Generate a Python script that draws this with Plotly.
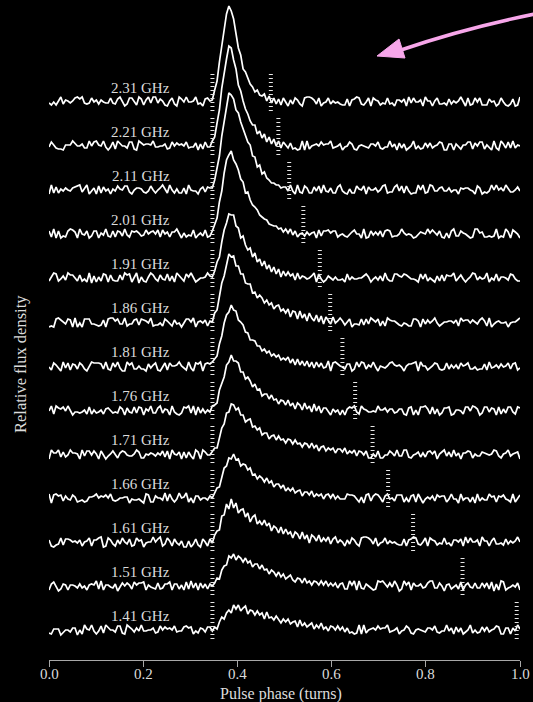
import numpy as np
import plotly.graph_objects as go

# ---------------- data ----------------
frequencies = ["2.31 GHz", "2.21 GHz", "2.11 GHz", "2.01 GHz", "1.91 GHz", "1.86 GHz",
               "1.81 GHz", "1.76 GHz", "1.71 GHz", "1.66 GHz", "1.61 GHz", "1.51 GHz", "1.41 GHz"]

# marker phases (turns)
left_marker = [0.347] * 13
right_marker = [0.471, 0.487, 0.510, 0.540, 0.575, 0.597, 0.623, 0.650, 0.687, 0.720, 0.773, 0.878, 0.993]

# pulse profiles, 200 phase bins over one turn (relative flux, arbitrary units)
p231 = [-1, -3, 0, -3, 1, 5, -2, 2, 1, -1, 1, 4, 5, 3, 5, -1, -2, -1, 4, 0,
        2, -2, 2, 0, -1, -1, 4, -1, -2, 3, 5, 1, -4, -2, 4, 4, 0, -3, 5, 3,
        -3, 2, 5, -1, 5, 5, -1, 3, 1, -3, -4, 1, 4, -2, -4, 5, 3, 0, 5, 0,
        0, 1, 5, -2, -1, -4, 3, 4, 1, 2, 12, 21, 40, 56, 70, 88, 96, 91, 83, 70,
        54, 47, 33, 30, 24, 18, 15, 10, 12, 7, 6, 8, 1, 6, -1, 4, -2, 3, -3, 4,
        0, -4, 2, -2, 4, 2, -2, -4, 4, 5, 5, 4, 2, -2, 4, -4, -1, 0, 4, -2,
        1, -1, 0, -2, -3, -3, 3, -4, 2, 3, 5, 4, -2, -3, 0, 4, -4, 4, 2, 1,
        -3, -1, -2, 4, -2, -1, -4, 2, 2, 0, 3, -4, 5, -1, 4, 0, 0, 2, -4, 5,
        1, 1, -4, 1, 4, -2, -2, -1, -3, 3, -2, 1, -1, 1, 5, 0, -4, 4, -3, -2,
        4, 0, 4, -3, -3, -3, 3, 0, 1, -4, -2, 4, 0, -3, -4, -2, 3, -4, -3, 5]
p221 = [-1, 4, 1, -2, -3, -3, -4, 1, 1, 1, 5, 2, 0, 0, 2, -2, -2, 5, 0, 4,
        5, 1, 0, 5, -1, -4, -1, 4, -3, 5, 2, 0, 0, -2, 4, 4, -3, -4, 5, 3,
        1, 2, 2, 1, 5, -1, -1, 0, 0, 2, -3, -2, 4, 0, 3, 1, 2, 0, 4, -2,
        -1, -1, 3, -4, 2, -3, 4, -1, -1, 5, 9, 23, 36, 58, 75, 87, 100, 98, 86, 77,
        61, 55, 45, 37, 32, 25, 21, 21, 12, 15, 8, 12, 4, 9, 2, 7, 0, 5, -2, 4,
        1, -2, 3, -3, -2, -4, -3, 5, -4, 5, -3, 0, 1, 2, 0, 4, 1, 2, 2, 5,
        -2, -1, 0, 2, -4, -1, 0, 4, 2, -3, -4, 0, 1, 0, -1, -2, 2, 2, 0, 4,
        -2, -3, -1, -1, 5, -1, 2, -4, 3, -2, 2, -4, -2, 0, 5, -3, 0, -3, -2, 3,
        -1, 3, -2, 0, 1, 4, 3, -4, -4, 2, 2, -4, 2, -1, -3, 1, 1, 4, 4, -3,
        3, 0, 4, 4, -3, 1, -2, -4, 5, -2, -4, 5, 2, -2, 4, -2, 5, -2, 1, 0]
p211 = [-4, 5, -3, 3, -3, 1, -1, 2, 0, -1, 2, 3, 4, 5, -2, 1, 5, -4, -1, 2,
        -4, 4, -3, 3, -1, 1, -4, 1, -1, 4, 1, 0, 4, 4, -2, -4, 0, 2, 2, 1,
        -2, -3, -1, 4, 0, -3, 0, 2, 5, 1, -3, 5, 0, -3, 1, -3, -3, 2, -4, 5,
        0, -1, -1, -4, 1, 3, -2, 3, 2, 2, 10, 22, 34, 54, 68, 86, 97, 95, 91, 80,
        77, 68, 62, 55, 48, 45, 34, 33, 23, 25, 16, 18, 12, 10, 7, 7, 5, 5, 2, 3,
        3, -1, 5, -1, -4, 5, -2, -3, 4, 2, -3, -3, 3, -1, 4, -3, 5, -1, -2, 2,
        -3, -3, 3, 5, -1, -3, -4, 1, -3, -3, 4, 1, 0, 4, -4, 3, 0, 0, 2, -2,
        0, 4, 5, -3, -2, -2, 3, 5, -1, 4, -3, 4, -1, -4, -3, -3, 5, 0, 5, -3,
        -2, 5, 4, -1, -1, 2, 3, -1, -1, 2, -2, 0, 0, -4, 2, 1, 2, 2, 0, -1,
        -4, 4, 2, -4, -2, -3, -1, 5, 0, 5, 0, 2, -1, 5, 1, -2, -2, 0, 3, -1]
p201 = [3, -3, 5, -4, 3, -4, -2, -3, 3, 5, 4, 2, -4, 5, 0, -1, 3, -4, -2, 3,
        3, -4, 1, -1, 5, -2, -3, 3, -3, 3, 2, -2, 5, -1, -3, 3, 2, 3, 1, -2,
        -1, 4, 0, 2, 3, 0, 4, -3, 4, 0, 2, -3, 2, 2, 5, 0, -4, 1, -3, -1,
        -2, 4, -4, -1, 1, -2, 4, -3, -2, 3, 9, 16, 32, 43, 61, 74, 79, 83, 74, 70,
        64, 55, 52, 41, 42, 34, 29, 27, 24, 19, 17, 15, 14, 10, 9, 8, 8, 5, 6, 2,
        5, 1, 5, -1, 3, -3, 0, 1, -2, 2, -1, 1, 2, -4, 4, -2, 3, 3, 4, 1,
        3, 3, -3, -1, 0, -2, -3, 0, 2, 4, 0, 0, -4, 5, -4, -3, 3, -1, 2, -1,
        3, -3, 3, 4, 3, -3, -2, -2, 0, 5, 1, -1, 0, -1, -4, -3, 0, 2, 1, 0,
        5, 1, 4, 1, -1, 3, -3, -4, 1, -4, 3, 5, -2, -2, 3, 1, 0, -2, -4, -3,
        5, 5, 1, 2, -3, -3, -2, -3, -2, 5, -4, -2, -3, 5, 2, -4, 4, 2, 0, -4]
p191 = [-3, 1, 5, 4, -3, -1, 2, -2, 5, 3, 3, 0, -3, 3, -3, -1, -4, 5, -5, 2,
        -4, 1, -3, 4, 3, -4, 3, -2, -3, -3, 3, -2, 5, 3, 4, -4, 0, 5, -5, 1,
        -3, -4, 1, 5, 3, -1, -3, 3, -1, -2, 4, -3, 2, -4, 5, 2, -1, -3, 4, 1,
        5, 1, -4, -2, 0, 0, 1, 5, 2, 1, 7, 16, 21, 36, 48, 55, 64, 63, 63, 52,
        50, 40, 42, 33, 28, 30, 21, 25, 16, 19, 12, 17, 9, 13, 6, 11, 4, 9, 1, 7,
        2, 6, 2, 4, -2, 5, -1, 2, 1, -1, 0, 2, 5, -4, 4, -1, -4, -2, 2, 0,
        -2, 1, -2, -2, -1, -4, 4, -2, 1, -1, -1, 0, 0, 2, 4, 1, -4, -1, 1, -2,
        2, -3, 5, -1, -3, -3, 4, 4, 2, 1, 4, 3, 1, -1, -1, -2, -4, 4, -1, 4,
        -3, 0, -2, -4, 2, -3, 3, -3, 3, 2, 2, 5, -3, 0, 3, -1, -4, -1, 1, 5,
        4, -2, 1, -1, 0, 5, -4, 0, -2, 4, -3, 1, 1, 0, -2, 4, 3, -1, -3, -3]
p186 = [-5, -4, -5, 3, 4, 2, 0, -2, 3, 2, -5, 4, -5, -1, -5, 3, 3, 3, -2, -2,
        -3, -4, -3, 2, -5, 3, 4, 4, 1, 3, -2, -2, 4, -4, -2, -2, 2, 3, -3, 3,
        2, 1, -1, 4, -4, -3, -3, -1, -4, 3, 1, -2, -4, 2, -2, -1, -5, -1, 3, 3,
        0, 4, -5, 0, 1, -1, 2, -4, 1, 0, 9, 12, 26, 39, 46, 59, 68, 65, 66, 56,
        56, 48, 48, 39, 38, 38, 29, 30, 24, 27, 24, 19, 22, 17, 19, 13, 16, 17, 11, 13,
        9, 13, 5, 11, 10, 3, 11, 4, 8, 1, 9, 4, 1, 7, 0, 6, -2, 5, 2, -2,
        5, -1, 1, 4, 1, -3, 0, 3, -5, -2, -2, -3, 3, -3, 3, -2, 4, 2, 0, 3,
        -4, 1, -4, 4, 2, 1, 1, -1, -3, -4, -1, -2, -4, -4, 3, 3, 1, -5, 3, -2,
        2, -1, 1, 4, -1, -4, -2, 0, 0, 1, 1, -1, 2, -4, 4, 1, 2, 2, -1, 2,
        0, -2, 2, 4, 1, -4, 4, -5, -2, 0, 1, -1, -1, 0, -5, -1, 0, 0, 2, 4]
p181 = [-1, -4, 3, 1, -2, -5, 4, -2, 3, -4, 2, 1, -3, 3, 1, -3, -5, -1, 4, 3,
        3, 3, 2, -3, 4, -3, -4, 3, -1, 4, -2, -5, -5, 4, 1, 3, -3, -3, 0, -3,
        -3, -5, 2, -2, 1, 3, -4, -5, -1, 3, -4, 3, 0, 0, 1, 4, 0, -2, -4, 4,
        -2, -5, 3, 2, 4, -5, 2, 3, 2, 4, 7, 10, 22, 30, 43, 51, 54, 61, 56, 55,
        46, 44, 41, 34, 33, 26, 26, 25, 20, 20, 15, 17, 13, 15, 10, 12, 9, 11, 6, 8,
        6, 9, 3, 7, 1, 7, 1, 5, 0, 5, -1, 4, -2, 4, -1, 3, -2, -1, 5, -5,
        3, 4, 2, 0, -1, -3, 2, 2, -5, -3, 4, -1, 4, 3, -3, 1, -1, 4, -1, -5,
        0, -1, -2, 0, 3, 4, 1, 0, 1, -1, -5, 0, 2, 2, 3, 4, -5, 4, 0, 0,
        -4, -2, 0, 3, 2, -3, -4, -3, 3, -3, 1, -2, 1, -3, 3, 0, 1, 3, -3, -3,
        -1, -4, -3, -3, 2, -4, 4, -2, -1, 1, -2, 2, -1, 0, 3, -3, 2, 3, -4, -2]
p176 = [-1, 4, -4, 4, 2, 1, 3, -1, 4, 0, -5, -2, -2, -3, -2, 0, -4, 3, -4, 0,
        -3, -2, 0, -4, 1, 2, -1, -3, -2, -3, 3, 1, -5, 2, -2, -3, 3, -3, 3, 2,
        -5, 1, -1, 4, -3, -3, 2, 4, -3, 1, 0, -5, 4, -2, -4, -5, -3, 3, 2, 4,
        -3, 4, -5, 3, -3, 1, -3, 0, -2, 4, 5, 7, 20, 27, 33, 45, 48, 55, 49, 49,
        47, 38, 38, 31, 33, 29, 23, 26, 20, 21, 14, 16, 16, 11, 15, 10, 11, 6, 10, 9,
        5, 10, 4, 7, 1, 7, 5, 0, 7, 1, 4, -2, 6, -1, 4, -3, 2, 2, -1, -5,
        1, -2, 0, -5, 0, -5, 1, 3, 2, 4, -2, -4, 4, 1, 0, -2, -2, -1, -2, 4,
        0, 0, 2, -2, 1, 1, -3, -2, 1, 1, -4, -5, 2, 3, -5, 0, -5, 3, 3, 4,
        1, -4, 3, -4, 1, -5, -3, 2, 2, 3, -5, -4, 0, 0, -1, -4, 3, 3, -1, 4,
        3, 1, -5, -3, 3, 3, -2, 2, 1, -5, 3, -4, 1, -3, 3, 3, -2, -4, 3, 2]
p171 = [-5, 4, 1, 1, 4, -3, 2, -3, -1, 4, 1, 1, 0, -5, 4, -2, 3, 3, -1, 3,
        0, -5, 3, -1, -5, -2, 0, 3, 0, -4, 1, 3, 2, -1, -2, -2, 0, 4, 2, -4,
        -4, 0, -1, 1, 0, -2, 1, -1, 3, -3, 3, -5, 4, 0, -1, 2, -5, 2, -4, 2,
        -2, -5, 4, 2, -5, 4, 2, -1, -1, 3, 6, 6, 16, 26, 30, 41, 42, 50, 49, 44,
        46, 39, 39, 32, 34, 35, 27, 28, 24, 26, 19, 21, 21, 15, 18, 19, 14, 18, 14, 15,
        11, 15, 14, 10, 14, 10, 11, 7, 11, 10, 6, 11, 6, 9, 3, 7, 8, 3, 6, 4,
        6, 1, 5, 5, 2, 6, 0, 3, 1, 4, -2, 3, 2, -1, 3, -4, -4, 0, -3, 3,
        -4, -4, -1, -1, 3, 1, -2, 4, -2, -2, 4, 4, -3, -4, -1, 0, 2, -3, 1, -3,
        2, 3, 0, 3, -5, 0, 2, 4, -2, 2, -3, 4, -2, 1, -5, 1, 1, 3, 2, -4,
        0, -2, -2, 2, 1, 0, -1, 0, 4, 3, -2, -4, 0, 1, 4, -2, 0, 1, 2, -5]
p166 = [4, -5, 3, 4, 2, 3, -3, 2, -1, -2, 3, 1, -4, -3, -2, -4, -3, 1, 1, 2,
        4, 0, 2, 1, 3, 0, 4, -2, -3, -2, 0, 0, 1, 1, -5, -1, -2, -2, -1, -3,
        -5, 4, 3, -4, -4, 2, 0, 0, -2, 5, -3, 4, -1, -4, -1, 5, 0, 1, 5, -4,
        0, -5, 2, 2, -2, 0, 0, -2, 2, 0, 5, 10, 11, 21, 30, 32, 40, 39, 44, 38,
        39, 32, 34, 33, 28, 30, 23, 24, 19, 22, 20, 16, 20, 15, 17, 11, 14, 14, 10, 13,
        7, 10, 7, 10, 5, 7, 8, 2, 6, 6, 3, 7, 1, 4, 2, 4, -1, 3, 4, 0,
        4, -1, 2, -1, -1, -1, 4, 3, 3, 2, -1, -4, 1, -5, 3, 4, -3, 2, 4, 3,
        0, -4, 2, 4, -1, 0, -3, 3, 3, 3, -4, 0, -4, 2, 3, -4, 4, 0, -5, -1,
        1, -1, 2, -3, 3, 1, 2, 2, -4, -1, 4, -1, -1, -5, 4, -2, 0, 0, -4, 1,
        -5, 4, -3, 0, -2, -2, 4, 1, 2, -4, 2, 1, 3, -1, -2, -4, 4, -4, 0, 3]
p161 = [2, -4, -5, -3, -2, 4, -3, 3, 3, 2, 0, 1, -1, 2, -4, 0, 1, 4, -4, 2,
        2, 4, 5, -5, -4, 4, 2, -2, -4, 2, -2, 4, 0, -2, 3, -4, -3, 4, 1, 2,
        -5, -1, 0, 0, 5, 0, 3, 5, -4, -2, 4, 1, -4, 3, -1, -3, 1, -5, -5, 1,
        -5, -2, 3, -3, -5, 3, 0, -4, 3, -1, 7, 11, 12, 26, 27, 38, 33, 43, 34, 39,
        29, 32, 33, 25, 29, 20, 25, 27, 18, 21, 17, 22, 16, 19, 11, 16, 14, 9, 15, 8,
        13, 8, 10, 4, 10, 8, 3, 10, 3, 7, -1, 7, 5, 1, 7, 0, 4, 1, 5, -2,
        3, 5, -1, 2, 0, -4, 2, -2, 4, 2, -2, -4, 4, 5, 5, 4, 2, -2, 4, -4,
        -1, 0, 4, -2, 1, -1, 0, -2, -3, -3, 3, -4, 2, 3, 5, 4, -2, -3, 0, 4,
        -4, 4, 2, 1, -3, -1, -2, 4, -2, -1, -4, 2, 2, 0, 3, -4, 5, -1, 4, 0,
        0, 2, -4, 5, 1, 1, -4, 1, 4, -2, -2, -1, -3, 3, -2, 1, -1, 1, 5, 0]
p151 = [-4, 2, 4, -1, -5, -3, 2, 1, -4, 1, 1, 0, -2, 2, -2, 0, -4, 1, 2, 1,
        5, -3, 5, -4, 1, 1, -1, -2, 2, -5, -1, 3, 0, 3, 1, -3, 4, 1, 3, 3,
        4, -4, 1, -1, -2, -3, 3, -3, -2, 2, 2, 4, -4, 2, 2, -3, 1, -4, 4, -3,
        5, -2, 3, -4, 3, -2, 2, -3, 2, 0, 3, 8, 7, 16, 20, 21, 30, 28, 32, 26,
        30, 28, 24, 28, 23, 25, 19, 22, 22, 17, 21, 16, 17, 12, 16, 14, 10, 14, 9, 12,
        7, 9, 11, 6, 4, 8, 7, 3, 8, 3, 5, 1, 5, 4, 1, 5, 1, 5, 0, 3,
        0, 3, -2, 2, 3, -3, -3, 5, 1, 5, -4, 5, -2, -3, 2, 0, -2, -4, -3, 5,
        4, 5, 2, -1, 3, -1, 5, 1, -5, -3, 5, 1, 4, -4, 3, 0, 0, 2, -2, -1,
        3, 5, 5, -2, -2, 3, 0, -5, 1, 2, -3, -1, 1, -3, 4, -4, 1, 3, -1, -2,
        3, -2, -2, 3, -1, 3, -3, 4, -5, 2, -4, 5, 4, -4, -2, -1, 1, -1, 3, -4]
p141 = [-3, -4, 1, 1, 1, -5, -2, 0, 0, -2, 2, 2, -5, 0, -4, 5, 1, 0, 5, -1,
        -4, -1, 4, -3, 5, 2, 0, 0, -2, 4, 4, -3, -4, 5, 3, 1, -2, 2, -1, 5,
        -1, -1, 0, 0, 2, -3, -2, 4, 0, 3, 1, 2, 0, 4, -2, -1, -1, 3, 4, 2,
        3, -4, -1, -3, 2, 1, -2, 3, 3, -1, 3, 1, 8, 13, 11, 17, 20, 17, 25, 21,
        25, 19, 22, 24, 16, 20, 19, 15, 19, 15, 17, 11, 18, 12, 13, 10, 14, 11, 7, 11,
        8, 11, 6, 8, 9, 3, 10, 4, 7, 3, 5, 7, 1, 5, 2, 7, 1, 3, -1, 4,
        3, 0, 4, 0, 3, -2, 2, -3, -2, -4, -3, 5, -4, 5, -3, 0, 1, 2, 0, 4,
        1, 2, 2, 5, -2, -1, 0, 2, -4, -1, 0, 4, 2, -3, -4, 0, 1, 0, -1, -2,
        2, 2, 0, 4, -2, -3, -1, -1, 5, -1, 2, -4, 3, -2, 2, -4, -2, 0, 5, -3,
        0, -3, -2, 3, -1, 3, -2, 0, 1, 4, 3, -4, -4, 2, 2, -4, 2, -1, 5, 1]

profiles = [p231, p221, p211, p201, p191, p186, p181, p176, p171, p166, p161, p151, p141]
x_ticks = [0.0, 0.2, 0.4, 0.6, 0.8, 1.0]
x_tick_labels = ["0.0", "0.2", "0.4", "0.6", "0.8", "1.0"]

# ---------------- layout constants ----------------
W, H = 533, 702
ML, MR, MT, MB = 49, 13, 0, 42
PW, PH = W - ML - MR, H - MT - MB
SPACING = 44.0
Y_RANGE = [-30, 630]
SERIF = "Liberation Serif, Times New Roman, serif"
TXT = "#dcdcdc"
PINK = "#f7a6ea"


def paper(px, py):
    return (px - ML) / PW, (MT + PH - py) / PH


fig = go.Figure()
n = len(profiles)
for k, vals in enumerate(profiles):
    base = (n - 1 - k) * SPACING
    phase = np.linspace(0, 1, len(vals))
    fig.add_trace(go.Scatter(x=phase, y=base + np.asarray(vals, dtype=float), mode="lines",
                             line=dict(color="white", width=1.7), hoverinfo="skip"))
    for m in (left_marker[k], right_marker[k]):
        fig.add_trace(go.Scatter(x=[m, m], y=[base - 9, base + 31], mode="lines",
                                 line=dict(color="#e6e6e6", width=4, dash="1px,3px"),
                                 hoverinfo="skip"))
    fig.add_annotation(x=0.262, y=base + 14, xref="x", yref="y", text=frequencies[k],
                       showarrow=False, xanchor="right", yanchor="middle",
                       font=dict(family=SERIF, size=15, color=TXT))

lens = [len(p) for p in profiles]
if any(l != 200 for l in lens):
    fig.add_annotation(x=0.5, y=0.5, xref="paper", yref="paper", text=str(lens),
                       showarrow=False, font=dict(color="red", size=14))

# tick labels (placed just under the tick marks)
_, ty = paper(0, 674)
for tv, tl in zip(x_ticks, x_tick_labels):
    fig.add_annotation(x=tv, y=ty, xref="x", yref="paper", text=tl, showarrow=False,
                       xanchor="center", yanchor="middle",
                       font=dict(family=SERIF, size=15, color=TXT))

# axis titles
ax, ay = paper(281, 694)
fig.add_annotation(x=ax, y=ay, xref="paper", yref="paper", text="Pulse phase (turns)",
                   showarrow=False, xanchor="center", yanchor="middle",
                   font=dict(family=SERIF, size=16, color=TXT))
bx, by = paper(20, 364)
fig.add_annotation(x=bx, y=by, xref="paper", yref="paper", text="Relative flux density",
                   showarrow=False, textangle=-90, xanchor="center", yanchor="middle",
                   font=dict(family=SERIF, size=16.5, color=TXT))

# pink arrow
s = paper(545, 12)
c = paper(468, 27)
e = paper(401, 50)
fig.add_shape(type="path", xref="paper", yref="paper",
              path=f"M {s[0]},{s[1]} Q {c[0]},{c[1]} {e[0]},{e[1]}",
              line=dict(color=PINK, width=3.5))
t = paper(377, 56)
h1 = paper(399, 39)
h2 = paper(405, 58)
fig.add_shape(type="path", xref="paper", yref="paper",
              path=f"M {t[0]},{t[1]} L {h1[0]},{h1[1]} L {h2[0]},{h2[1]} Z",
              fillcolor=PINK, line=dict(color=PINK, width=1))

fig.update_layout(
    width=W, height=H, margin=dict(l=ML, r=MR, t=MT, b=MB),
    paper_bgcolor="black", plot_bgcolor="black", showlegend=False,
    xaxis=dict(range=[0, 1], showgrid=False, zeroline=False, showline=True,
               linecolor="#a8a8a8", linewidth=1, ticks="outside", ticklen=6,
               tickcolor="#a8a8a8", tickvals=x_ticks, showticklabels=False,
               fixedrange=True),
    yaxis=dict(range=Y_RANGE, visible=False, fixedrange=True),
)

fig.write_html("out.html")
